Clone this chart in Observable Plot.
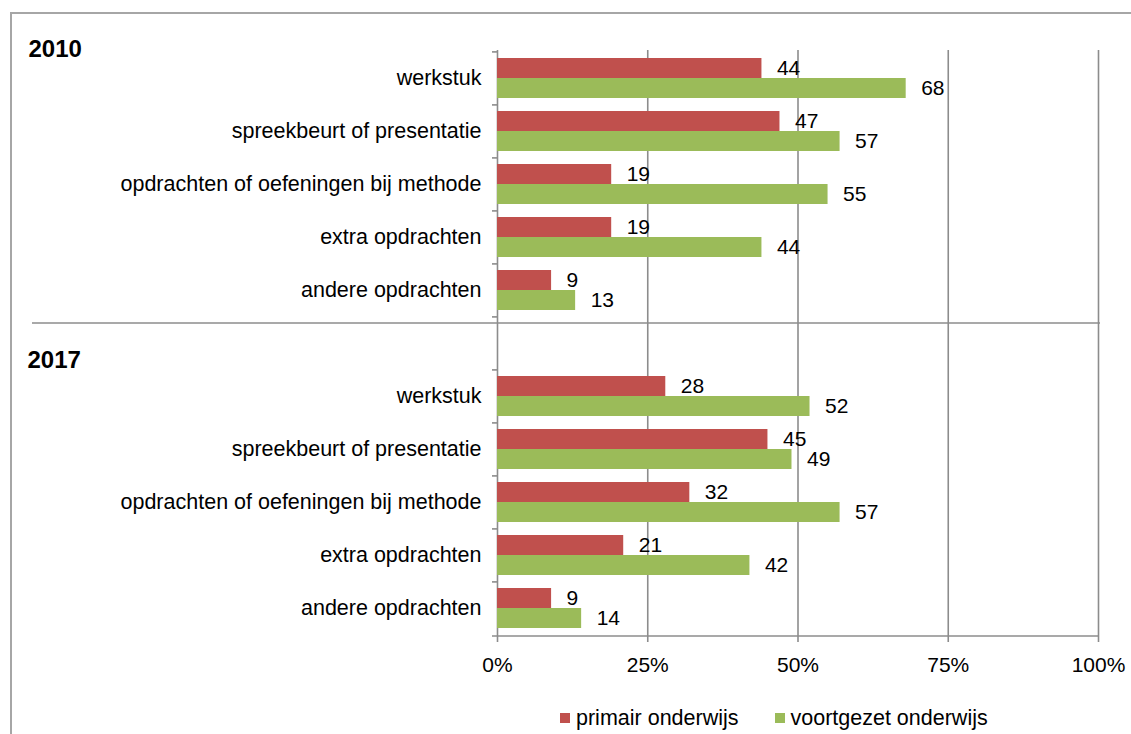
<!DOCTYPE html>
<html>
<head>
<meta charset="utf-8">
<script src="https://cdn.jsdelivr.net/npm/d3@7"></script>
<script src="https://cdn.jsdelivr.net/npm/@observablehq/plot@0.6"></script>
<style>
  body { margin: 0; background: #fff; font-family: "Liberation Sans", Arial, sans-serif; }
  #wrap { position: relative; width: 1131px; height: 734px; overflow: hidden; }
  #border { position: absolute; left: 10px; top: 12px; width: 1200px; height: 800px;
            border-top: 2px solid #a6a6a6; border-left: 2px solid #a6a6a6; }
  #chart { position: absolute; left: 0; top: 0; }
  #legend { position: absolute; left: 560px; top: 704px; font-size: 21.5px; line-height: 24px; color: #000; white-space: nowrap; }
  #legend span.item { display: inline-flex; align-items: center; margin-right: 0; }
  #legend span.sw { display: inline-block; width: 10px; height: 10px; margin-right: 6px; }
</style>
</head>
<body>
<div id="wrap">
  <div id="border"></div>
  <div id="chart"></div>
  <div id="legend"></div>
</div>
<script>
const years = ["2010", "2017"];
const categories = [
  "werkstuk",
  "spreekbeurt of presentatie",
  "opdrachten of oefeningen bij methode",
  "extra opdrachten",
  "andere opdrachten"
];
const primair2010 = [44, 47, 19, 19, 9];
const voortgezet2010 = [68, 57, 55, 44, 13];
const primair2017 = [28, 45, 32, 21, 9];
const voortgezet2017 = [52, 49, 57, 42, 14];
const seriesNames = ["primair onderwijs", "voortgezet onderwijs"];
const seriesColors = ["#C0504D", "#9BBB59"];
const xTicks = [0, 25, 50, 75, 100];

const valuesByYear = {
  "2010": [primair2010, voortgezet2010],
  "2017": [primair2017, voortgezet2017]
};

const rows = [];
for (const yr of years) {
  categories.forEach((c, i) => {
    rows.push({
      key: yr + "|" + c,
      category: c,
      year: yr,
      primair: valuesByYear[yr][0][i],
      voortgezet: valuesByYear[yr][1][i]
    });
  });
}
const gapKey = "gap";
const domain = [
  ...rows.filter(r => r.year === "2010").map(r => r.key),
  gapKey,
  ...rows.filter(r => r.year === "2017").map(r => r.key)
];
const labelOf = k => k === gapKey ? "" : k.split("|")[1];
const firstKey = domain[0];

const W = 1131, H = 700;
const font = "'Liberation Sans', Arial, sans-serif";
const gridColor = "#8c8c8c";

const svg = Plot.plot({
  width: W,
  height: H,
  marginLeft: 497,
  marginRight: 33,
  marginTop: 50,
  marginBottom: 64,
  style: { fontFamily: font, fontSize: "21px", color: "#000", background: "transparent", overflow: "visible" },
  x: { domain: [0, 100] },
  y: { domain, paddingInner: 0.25, paddingOuter: 0.125 },
  marks: [
    Plot.gridX(xTicks, { stroke: gridColor, strokeOpacity: 1, strokeWidth: 1.6 }),
    Plot.axisX(xTicks, { tickFormat: d => d + "%", tickSize: 6, tickPadding: 15, stroke: gridColor, strokeWidth: 1.6, fill: "#000", label: null, fontSize: 21 }),
    Plot.axisY({ tickSize: 5, stroke: gridColor, strokeWidth: 1.6, fill: "none", label: null, dy: -26.6 }),
    Plot.axisY({ tickSize: 0, tickPadding: 16, tickFormat: labelOf, fill: "#000", label: null, fontSize: 21.5 }),
    Plot.barX(rows, { x: "primair", y: "key", fill: seriesColors[0], insetBottom: 20 }),
    Plot.barX(rows, { x: "voortgezet", y: "key", fill: seriesColors[1], insetTop: 20 }),
    Plot.text(rows, { x: "primair", y: "key", text: d => String(d.primair), dx: 15, dy: -10, textAnchor: "start", fill: "#000", fontSize: 21 }),
    Plot.text(rows, { x: "voortgezet", y: "key", text: d => String(d.voortgezet), dx: 15, dy: 10, textAnchor: "start", fill: "#000", fontSize: 21 }),
    Plot.text([years[0]], { y: () => firstKey, text: d => d, frameAnchor: "left", dx: -469, dy: -29, textAnchor: "start", fontWeight: "bold", fontSize: 24, fill: "#000" }),
    Plot.text([years[1]], { y: () => gapKey, text: d => d, frameAnchor: "left", dx: -470, dy: 17, textAnchor: "start", fontWeight: "bold", fontSize: 24, fill: "#000" })
  ]
});

// Divider between the two year groups and the bottom axis line, placed via the plot's scales
const sx = svg.scale("x"), sy = svg.scale("y");
const sel = d3.select(svg);
const divY = sy.apply(gapKey);
sel.append("line")
  .attr("x1", 32).attr("x2", sx.apply(100) + 2)
  .attr("y1", divY).attr("y2", divY)
  .attr("stroke", gridColor).attr("stroke-width", 1.6);
const baseY = sy.range[1];
sel.append("line")
  .attr("x1", sx.apply(0) - 5).attr("x2", sx.apply(100))
  .attr("y1", baseY).attr("y2", baseY)
  .attr("stroke", gridColor).attr("stroke-width", 1.6);

document.getElementById("chart").appendChild(svg);

const legend = document.getElementById("legend");
seriesNames.forEach((name, i) => {
  const item = document.createElement("span");
  item.className = "item";
  if (i > 0) item.style.marginLeft = "36px";
  const sw = document.createElement("span");
  sw.className = "sw";
  sw.style.background = seriesColors[i];
  item.appendChild(sw);
  item.appendChild(document.createTextNode(name));
  legend.appendChild(item);
});
</script>
</body>
</html>
